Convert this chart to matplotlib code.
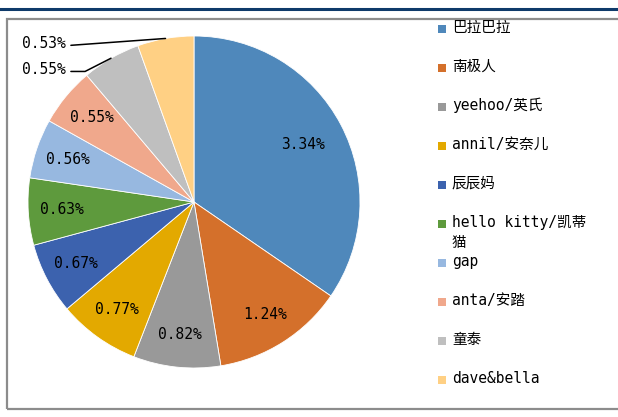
import numpy as np
import matplotlib
matplotlib.use("Agg")
import matplotlib.pyplot as plt
from matplotlib.patches import Rectangle
from matplotlib.lines import Line2D

brands = ["巴拉巴拉", "南极人", "yeehoo/英氏", "annil/安奈儿", "辰辰妈",
          "hello kitty/凯蒂\n猫", "gap", "anta/安踏", "童泰", "dave&bella"]
shares = [3.34, 1.24, 0.82, 0.77, 0.67, 0.63, 0.56, 0.55, 0.55, 0.53]
colors = ["#4f88bb", "#d4702b", "#999999", "#e3a900", "#3c62ae",
          "#5e9a3d", "#97b8e0", "#f0a88c", "#bfbfbf", "#ffd084"]

mono = ["DejaVu Sans Mono", "Noto Sans CJK SC"]

fig = plt.figure(figsize=(6.18, 4.17), dpi=100)

# dark rule on top and grey frame round the chart
fig.add_artist(Line2D([0, 1], [1 - 9 / 417] * 2, color="#0e3a6a", lw=2.2,
                      transform=fig.transFigure))
fig.add_artist(Rectangle((7 / 618, 8 / 417), 1.2, (409 - 19) / 417, fill=False,
                         edgecolor="#8c8c8c", lw=1.6, transform=fig.transFigure))

ax = fig.add_axes([28 / 618, 49 / 417, 332 / 618, 332 / 417])
wedges, _ = ax.pie(shares, colors=colors, startangle=90, counterclock=False,
                   radius=1, wedgeprops=dict(edgecolor="white", linewidth=0.6))
ax.set_xlim(-1, 1)
ax.set_ylim(-1, 1)
ax.axis("off")

# the two smallest top slices get outside labels with leader lines
outside = {8: ((-0.775, 0.80), "angle,angleA=0,angleB=27,rad=0"),
           9: ((-0.775, 0.955), "arc3")}

for i, (w, v) in enumerate(zip(wedges, shares)):
    mid = np.deg2rad((w.theta1 + w.theta2) / 2)
    label = f"{v:.2f}%"
    if i in outside:
        pos, conn = outside[i]
        ax.annotate(label, xy=(np.cos(mid), np.sin(mid)), xytext=pos,
                    ha="right", va="center", fontsize=10.5, family=mono,
                    color="black",
                    arrowprops=dict(arrowstyle="-", color="black", lw=1.1,
                                    shrinkA=2, shrinkB=0, relpos=(1, 0.35),
                                    connectionstyle=conn))
    else:
        r = 0.74 if i == 0 else 0.8
        ax.text(r * np.cos(mid), r * np.sin(mid), label, ha="center",
                va="center", fontsize=10.5, family=mono, color="black")

# legend drawn by hand so the wrapped entry does not push the others down
y0 = 1 - 29 / 417
step = 39 / 417
for i, (name, c) in enumerate(zip(brands, colors)):
    y = y0 - i * step
    fig.add_artist(Rectangle((438 / 618, y - 4 / 417), 8 / 618, 8 / 417,
                             facecolor=c, edgecolor="none",
                             transform=fig.transFigure))
    fig.text(452 / 618, y + 9 / 417, name, ha="left", va="top", fontsize=10.5,
             family=mono, color="black", linespacing=1.45)

fig.savefig("out.png", dpi=100)
